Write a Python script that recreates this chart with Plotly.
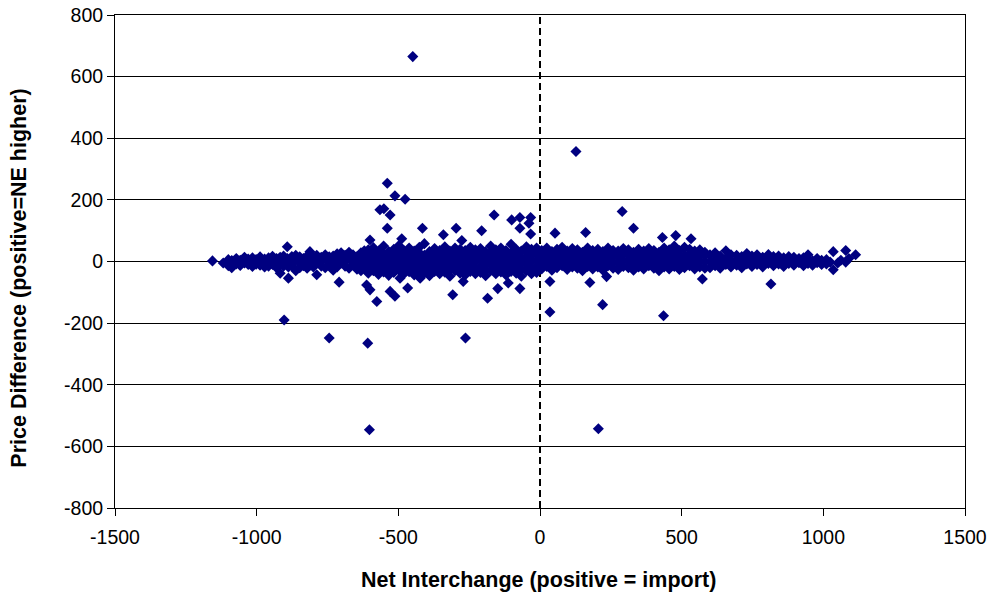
import plotly.graph_objects as go

# Net interchange (MW, positive = import) vs. price difference ($/MWh, positive = NE higher)
# Dense hourly band, grouped by interchange level: (net_interchange, [price_differences])
west_band = [
    (-1156, [2]), (-1118, [-5]), (-1100, [6, -14]), (-1088, [-20, 3]),
    (-1072, [10, -8]), (-1058, [4, -13]), (-1043, [14, -5]), (-1030, [-10, 8]),
    (-1015, [12, -16, 0]), (-1002, [6, -9]),
    (-988, [15, -12, 2]), (-972, [-18, 8]), (-958, [12, -4, -15]), (-944, [5, -10, 17]),
    (-930, [-20, 10, 0]), (-917, [14, -8, -38]), (-905, [3, -15, 18]),
    (-892, [48, 10, -6]), (-888, [-54, -18]), (-876, [16, 0, -12]),
    (-862, [-30, 8, 20]), (-848, [-5, 15, -20]), (-835, [10, -14, 3]),
    (-822, [18, -8, -22]), (-812, [32, 5, -12]), (-800, [12, -18, 0]),
    (-788, [-43, -6, 20]), (-772, [14, 2, -15]), (-758, [-20, 8, 22]),
    (-744, [0, 15, -12]), (-730, [18, -8, -28]), (-716, [6, 25, -18]),
    (-702, [-5, 14, 28]), (-688, [20, -15, 2]), (-674, [-22, 10, 30]),
    (-660, [8, -10, 22]), (-646, [-25, 15, 0]), (-632, [28, -8, 12, -30]),
    (-620, [5, 35, -20]),
]

central_band = [
    (-606, [-38, -18, 2, 20, 38]), (-588, [-30, -10, 10, 28, 45]),
    (-570, [-42, -22, -4, 16, 34]), (-552, [-34, -14, 6, 24, 50]),
    (-534, [-45, -26, -6, 14, 32]), (-516, [-36, -16, 4, 22, 40]),
    (-498, [-28, -8, 12, 30, 52]), (-480, [-40, -20, 0, 18, 36]),
    (-462, [-33, -13, 8, 26, 44]), (-444, [-44, -24, -4, 16, 34]),
    (-426, [-30, -10, 10, 28, 46]), (-408, [-38, -18, 2, 20, 58]),
    (-390, [-46, -26, -6, 14, 32]), (-372, [-32, -12, 8, 26, 42]),
    (-354, [-40, -20, 0, 18, 36]), (-336, [-35, -15, 6, 24, 48]),
    (-318, [-48, -26, -6, 14, 34]), (-300, [-30, -10, 10, 28, 44]),
    (-282, [-38, -18, 2, 22, 40]), (-264, [-44, -24, -4, 16, 36]),
    (-246, [-32, -12, 8, 26, 46]), (-228, [-40, -20, 0, 18, 38]),
    (-210, [-36, -16, 4, 24, 42]), (-192, [-46, -26, -6, 14, 32]),
    (-174, [-30, -10, 10, 30, 50]), (-156, [-40, -20, 0, 20, 38]),
    (-138, [-34, -14, 6, 26, 44]), (-120, [-44, -24, -4, 16, 36]),
    (-102, [-32, -12, 8, 28, 56]), (-84, [-38, -18, 2, 22, 40]),
    (-66, [-48, -26, -6, 14, 34]), (-48, [-30, -10, 10, 30, 48]),
    (-30, [-40, -20, 0, 20, 40]), (-12, [-36, -16, 4, 24, 44]),
    (6, [-24, -4, 16, 36]), (24, [-16, 4, 24, 44]), (42, [-28, -8, 12, 32]),
    (60, [-20, 0, 20, 40]), (78, [-14, 6, 26, 46]), (96, [-26, -6, 14, 34]),
    (114, [-18, 2, 22, 42]), (132, [-22, -2, 18, 38]), (150, [-30, -10, 10, 30]),
    (168, [-16, 4, 24, 44]), (186, [-24, -4, 16, 36]), (204, [-18, 2, 22, 40]),
    (222, [-28, -8, 12, 32]), (240, [-14, 6, 26, 44]), (258, [-22, -2, 18, 36]),
    (276, [-26, -6, 14, 34]), (294, [-16, 4, 24, 42]), (312, [-20, 0, 20, 38]),
    (330, [-28, -8, 12, 30]), (348, [-18, 2, 22, 40]), (366, [-24, -4, 16, 34]),
    (384, [-14, 6, 26, 42]), (402, [-22, -2, 18, 36]), (420, [-30, -10, 10, 30]),
    (438, [-18, 2, 22, 44]), (456, [-24, -4, 16, 38]), (474, [-16, 4, 24, 50]),
    (492, [-26, -6, 14, 36]), (510, [-20, 0, 20, 46]), (528, [-14, 6, 26, 40]),
    (546, [-24, -4, 16, 34]), (564, [-18, 2, 22, 38]), (582, [-22, -2, 18, 30]),
]

east_band = [
    (600, [-20, 0, 22]), (618, [-14, 6, 28]), (636, [-22, -2, 18]),
    (656, [-10, 10, 35]), (674, [-18, 2, 22]), (694, [-12, 6, 20]),
    (712, [-20, -2, 16]), (730, [-8, 10, 26]), (748, [-16, 2, 18]),
    (766, [-10, 8, 22]), (786, [-18, 0, 14]), (806, [-6, 10, 23]),
    (824, [-14, 2, 16]), (842, [-8, 8, 18]), (860, [-16, 0, 12]),
    (878, [-6, 8, 16]), (896, [-12, 2, 14]), (914, [-4, 10]),
    (930, [-14, 0, 12]), (946, [-6, 8, 22]), (962, [-12, 2]),
    (978, [-4, 10]), (994, [-10, 4]), (1011, [6, -8]), (1024, [-2]),
    (1035, [32, -27]), (1051, [-5]), (1062, [4]), (1079, [36, -2]),
    (1090, [10]), (1114, [22]),
]

# Hours with large price separation
outlier_x = [
    -449, 127, -539, -512, -476, -565, -551, -529, -539, -415, -296, -206,
    -162, -100, -71, -33, -71, -39, -33, 53, 161, 290, 330, 432, 479, 533,
    -600, -488, -341, -276,
    -600, -612, -576, -529, -512, -467, -308, -185, -149, -71, 35, 35,
    -709, 176, 221, -744, -608, -263, -602, 206, -903, 235, 573, 815, 436,
    -423, -271, -112, -494,
]
outlier_y = [
    665, 357, 254, 213, 202, 168, 171, 151, 108, 108, 108, 100,
    151, 135, 143, 143, 108, 124, 89, 92, 94, 162, 108, 78, 84, 74,
    70, 74, 87, 68,
    -92, -76, -130, -97, -113, -86, -108, -119, -88, -88, -65, -164,
    -67, -68, -140, -248, -265, -248, -546, -543, -190, -49, -57, -73, -176,
    -54, -65, -70, -54,
]

x_ticks = [-1500, -1000, -500, 0, 500, 1000, 1500]
y_ticks = [-800, -600, -400, -200, 0, 200, 400, 600, 800]

net_interchange = []
price_diff = []
for group in (west_band, central_band, east_band):
    for mw, diffs in group:
        for d in diffs:
            net_interchange.append(mw)
            price_diff.append(d)
net_interchange += outlier_x
price_diff += outlier_y

FONT = "Liberation Sans, Arial, sans-serif"
TITLE_FONT = dict(family=FONT, size=21.5, weight="bold", color="black")

fig = go.Figure()
fig.add_trace(go.Scatter(
    x=net_interchange, y=price_diff, mode="markers",
    marker=dict(symbol="diamond", size=8.5, color="#000080", line=dict(width=0)),
    showlegend=False, hoverinfo="x+y",
))

# Zero-interchange reference line
fig.add_shape(type="line", xref="x", yref="y", x0=0, x1=0, y0=-800, y1=800,
              line=dict(color="black", width=2, dash="7px,4px"), layer="below")

# Axis titles
fig.add_annotation(text="Net Interchange (positive = import)", font=TITLE_FONT,
                   xref="paper", yref="paper", x=0.4982, y=-0.146,
                   xanchor="center", yanchor="middle", showarrow=False)
fig.add_annotation(text="Price Difference (positive=NE higher)", font=TITLE_FONT,
                   xref="paper", yref="paper", x=-0.1125, y=0.466, textangle=-90,
                   xanchor="center", yanchor="middle", showarrow=False)

fig.update_layout(
    width=989, height=595,
    margin=dict(l=115, r=24, t=15, b=87),
    paper_bgcolor="white", plot_bgcolor="white",
    font=dict(family=FONT, size=19.5, color="black"),
)
fig.update_xaxes(
    range=[-1500, 1500], tickvals=x_ticks, ticktext=[str(v) for v in x_ticks],
    showgrid=False, zeroline=False,
    showline=True, linecolor="black", linewidth=1, mirror=True,
    ticks="outside", ticklen=7, tickcolor="black", ticklabelstandoff=5,
    tickfont=dict(family=FONT, size=19.5),
    automargin=False,
)
fig.update_yaxes(
    range=[-800, 800], tickvals=y_ticks, ticktext=[str(v) for v in y_ticks],
    showgrid=True, gridcolor="black", gridwidth=1,
    zeroline=True, zerolinecolor="black", zerolinewidth=1,
    showline=True, linecolor="black", linewidth=1, mirror=True,
    ticks="outside", ticklen=7, tickcolor="black",
    tickfont=dict(family=FONT, size=19.5),
    automargin=False,
)

fig.write_html("out.html")
